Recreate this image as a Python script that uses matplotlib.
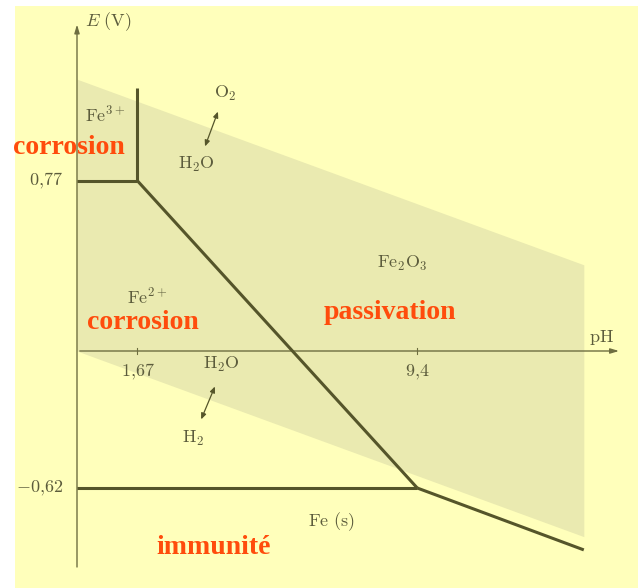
import matplotlib
matplotlib.use("Agg")
import matplotlib.pyplot as plt
from matplotlib.patches import Rectangle, FancyArrowPatch

plt.rcParams['mathtext.fontset'] = 'cm'

# ---- data (pH, E in V) ----
ph_water = [0, 14]
E_O2_H2O = [1.23, 0.39]
E_H2O_H2 = [0.0, -0.84]

ph_fe3_fe2 = [0, 1.67]
E_fe3_fe2 = [0.77, 0.77]
ph_fe3_fe2o3 = [1.67, 1.67]
E_fe3_fe2o3 = [0.77, 1.19]
ph_fe2_fe2o3 = [1.67, 9.4]
E_fe2_fe2o3 = [0.77, -0.62]
ph_fe_fe2 = [0, 9.4]
E_fe_fe2 = [-0.62, -0.62]
ph_fe_fe2o3 = [9.4, 14]
E_fe_fe2o3 = [-0.62, -0.90]

xtick_vals = [1.67, 9.4]
xtick_labels = ["1,67", "9,4"]
ytick_vals = [0.77, -0.62]
ytick_labels = ["0,77", "\u22120,62"]

# ---- figure ----
W, H = 638, 588
fig = plt.figure(figsize=(W / 100, H / 100), dpi=100)
fig.patch.set_facecolor("white")
ax = fig.add_axes([0, 0, 1, 1])
kx, ky = 36.2, 221.0
x0, y0 = 77, 351
ax.set_xlim(-x0 / kx, (W - x0) / kx)
ax.set_ylim((y0 - H) / ky, y0 / ky)
ax.axis("off")

yellow = "#FFFFBB"
shade = "#EAEAB0"
line_c = "#55552A"
axis_c = "#6E6E40"
txt_c = "#5C5C3C"
orange = "#FF4C0C"

# background yellow panel
ax.add_patch(Rectangle((-(x0 - 15) / kx, (y0 - H) / ky), (W - 15) / kx, (H - 6) / ky,
                       facecolor=yellow, edgecolor="none", zorder=0))

# water stability band
ax.fill_between(ph_water, E_H2O_H2, E_O2_H2O, color=shade, linewidth=0, zorder=1)

# axes
ax.annotate("", xy=(15.05, 0), xytext=(0, 0),
            arrowprops=dict(arrowstyle="-|>,head_length=0.5,head_width=0.15", color=axis_c, lw=1.0),
            zorder=2)
ax.annotate("", xy=(0, 1.49), xytext=(0, -0.99),
            arrowprops=dict(arrowstyle="-|>,head_length=0.5,head_width=0.15", color=axis_c, lw=1.0),
            zorder=2)
for xv in xtick_vals:
    ax.plot([xv, xv], [-0.012, 0.012], color=axis_c, lw=0.8, zorder=2)

# boundaries
lw = 2.2
for px, ey in [(ph_fe3_fe2, E_fe3_fe2), (ph_fe3_fe2o3, E_fe3_fe2o3),
               (ph_fe2_fe2o3, E_fe2_fe2o3), (ph_fe_fe2, E_fe_fe2),
               (ph_fe_fe2o3, E_fe_fe2o3)]:
    ax.plot(px, ey, color=line_c, lw=lw, solid_capstyle="butt", zorder=3)

fs = 13
# tick labels
for xv, lab in zip(xtick_vals, xtick_labels):
    ax.text(xv, -0.095, "$" + lab.replace(",", "{,}") + "$", color=txt_c, fontsize=fs,
            ha="center", va="center")
for yv, lab in zip(ytick_vals, ytick_labels):
    ax.text(-0.39, yv, "$" + lab.replace(",", "{,}").replace("\u2212", "-") + "$",
            color=txt_c, fontsize=fs, ha="right", va="center")

# axis labels
ax.text(0.22, 1.49, r"$E\ \mathrm{(V)}$", color=txt_c, fontsize=fs, ha="left", va="center")
ax.text(14.5, 0.06, r"$\mathrm{pH}$", color=txt_c, fontsize=fs, ha="center", va="center")

# species labels
species = [
    (4.09, 1.167, r"$\mathrm{O_2}$"),
    (3.31, 0.842, r"$\mathrm{H_2O}$"),
    (0.77, 1.068, r"$\mathrm{Fe^{3+}}$"),
    (1.93, 0.244, r"$\mathrm{Fe^{2+}}$"),
    (9.0, 0.398, r"$\mathrm{Fe_2O_3}$"),
    (4.0, -0.059, r"$\mathrm{H_2O}$"),
    (3.20, -0.394, r"$\mathrm{H_2}$"),
    (7.02, -0.774, r"$\mathrm{Fe\ (s)}$"),
]
for xs, ys, s in species:
    ax.text(xs, ys, s, color=txt_c, fontsize=fs, ha="center", va="center")

# double arrows
for (xa, ya), (xb, yb) in [((3.92, 1.095), (3.51, 0.914)), ((3.84, -0.149), (3.40, -0.321))]:
    ax.add_patch(FancyArrowPatch((xb, yb), (xa, ya),
                                 arrowstyle="<|-|>,head_length=3.5,head_width=1.5",
                                 color=line_c, lw=0.9, zorder=3))

# domain annotations
dom = [
    (-0.22, 0.923, "corrosion"),
    (1.82, 0.127, "corrosion"),
    (8.65, 0.176, "passivation"),
    (3.78, -0.887, "immunité"),
]
for xs, ys, s in dom:
    ax.text(xs, ys, s, color=orange, fontsize=20, fontweight="bold",
            family="Liberation Serif", ha="center", va="center", zorder=5)

fig.savefig("out.png", dpi=100, facecolor=fig.get_facecolor())
